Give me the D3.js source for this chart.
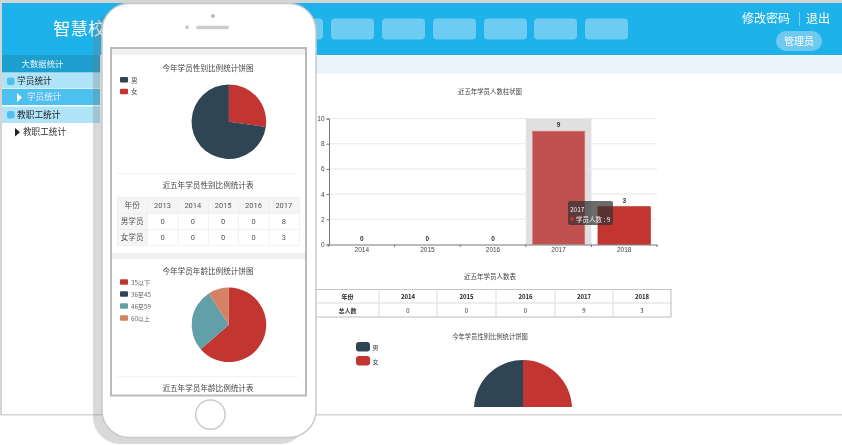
<!DOCTYPE html>
<html><head><meta charset="utf-8">
<script src="https://cdn.jsdelivr.net/npm/d3@7"></script>
<style>html,body{margin:0;padding:0;background:#fff;overflow:hidden}svg{display:block}text{font-family:"Noto Sans CJK SC","Noto Sans",sans-serif;filter:blur(.3px)}</style>
</head><body><svg id="c" width="842" height="445"></svg>
<script>
const barYears=["2014","2015","2016","2017","2018"];
const barValues=[0,0,0,9,3];
const yTicks=[0,2,4,6,8,10];
const genderLabels=["男","女"];
const genderValues=[8,3];
const ageLabels=["35以下","36至45","46至59","60以上"];
const ageValues=[7,0,3,1];
const tableYears=["2013","2014","2015","2016","2017"];
const tableMale=[0,0,0,0,8];
const tableFemale=[0,0,0,0,3];
const navButtons=[280,331,382,433,484,534,585];
const sideRows=[["大数据统计",55,17.5,"#1c9fcf"],["学员统计",73,15.5,"#aee3f8"],["学员统计",89,16,"#4cc0ef"],["教职工统计",106.5,16.5,"#aee3f8"]];

const svg=d3.select("#c");
const rect=(g,x,y,w,h,f,r)=>g.append("rect").attr("x",x).attr("y",y).attr("width",w).attr("height",h).attr("fill",f).attr("rx",r||0);
const txt=(g,x,y,s,size,f,a,w)=>g.append("text").attr("x",x).attr("y",y).attr("font-size",size).attr("fill",f).attr("text-anchor",a||"middle").attr("font-weight",w||400).text(s);
const defs=svg.append("defs");
defs.append("clipPath").attr("id","pc").append("rect").attr("x",316).attr("y",320).attr("width",400).attr("height",87);

// window
rect(svg,0,0,842,445,"#fff");
rect(svg,0,0,842,3,"#d4d4d4");
rect(svg,2,3,840,52,"#1eb2ea");
rect(svg,100,56,742,17.5,"#eaf3fa");
rect(svg,0,414,842,1.5,"#d4d4d4");
rect(svg,0,3,2,412,"#d4d4d4");
txt(svg,53,35,"智慧校",17.5,"#fff","start");
navButtons.forEach(x=>rect(svg,x,18.5,43,21,"#6ecbf1",4));
txt(svg,766,23,"修改密码",12,"#fff");
rect(svg,799,12,.8,14,"#8fd8f4");
txt(svg,818,23,"退出",12,"#fff");
rect(svg,776,31,46,20,"#70c9ee",10);
txt(svg,799,44.5,"管理员",10,"#fff");
// sidebar
sideRows.forEach((r,i)=>{
  rect(svg,2,r[1],98,r[2],r[3]);
  if(i===0)txt(svg,42.5,67,r[0],8.4,"#e8f6fc");
  if(i===1||i===3){rect(svg,7,r[1]+4.5,7.5,7.5,"#4cc0ef",2);txt(svg,17,r[1]+11,r[0],8.7,"#222","start");}
  if(i===2){svg.append("path").attr("d",d3.line()([[17,r[1]+4],[17,r[1]+13],[22,r[1]+8.5]])).attr("fill","#fff");txt(svg,27,r[1]+11,r[0],8.6,"#eef","start");}
});
svg.append("path").attr("d",d3.line()([[15,128],[15,136.5],[20,132.2]])).attr("fill","#222");
txt(svg,23,135.3,"教职工统计",8.6,"#333","start");

// main bar chart
txt(svg,490,93.5,"近五年学员人数柱状图",6.4,"#444");
const x=d3.scaleBand().domain(barYears).range([329,657]);
const y=d3.scaleLinear().domain([0,10]).range([244.5,118.5]);
const bar=svg.append("g");
bar.append("rect").attr("x",x("2017")).attr("y",y(10)).attr("width",x.bandwidth()).attr("height",y(0)-y(10)).attr("fill","#e0e0e0");
bar.selectAll("line.g").data(yTicks.slice(1)).join("line").attr("x1",329).attr("x2",657).attr("y1",d=>y(d)).attr("y2",d=>y(d)).attr("stroke","#e6e6e6").attr("stroke-width",1.1).attr("stroke-opacity",.85);
bar.selectAll("rect.b").data(barValues).join("rect").attr("class","b")
 .attr("x",(d,i)=>x(barYears[i])+x.bandwidth()*.1).attr("width",x.bandwidth()*.8)
 .attr("y",d=>y(d)).attr("height",d=>y(0)-y(d))
 .attr("fill",(d,i)=>i===3?"#c1514f":"#c23531").attr("stroke",(d,i)=>d?(i===3?"#e08c8a":"#b8201c"):"none").attr("stroke-width",.6);
bar.selectAll("text.v").data(barValues).join("text").attr("class","v").attr("x",(d,i)=>x(barYears[i])+x.bandwidth()/2).attr("y",d=>y(d)-4)
 .attr("text-anchor","middle").attr("font-size",6.5).attr("font-weight",700).attr("fill","#333").style("font-family",'"Liberation Sans"').text(d=>d);
const ax=bar.append("g").attr("transform","translate(0,244.5)").call(d3.axisBottom(x).tickSize(0).tickPadding(2.5).tickSizeOuter(0));
bar.selectAll("line.et").data(barYears.concat(["end"])).join("line").attr("class","et")
 .attr("x1",(d,i)=>329+i*x.step()).attr("x2",(d,i)=>329+i*x.step()).attr("y1",244.5).attr("y2",247).attr("stroke","#777");
const ay=bar.append("g").attr("transform","translate(329,0)").call(d3.axisLeft(y).tickValues(yTicks).tickSize(2.5).tickPadding(2));
[ax,ay].forEach(a=>{a.selectAll("path,line").attr("stroke","#777");a.selectAll("text").attr("font-size",6.5).attr("fill","#444").style("font-family",'"Liberation Sans"')});
rect(svg,568,201,45,24,"#323232",2).attr("fill-opacity",.72);
txt(svg,570,212,"2017",6.5,"#eee","start");
svg.append("circle").attr("cx",572).attr("cy",219).attr("r",2).attr("fill","#c23531");
txt(svg,576,221.5,"学员人数 : 9",6.5,"#eee","start");

// main table
txt(svg,490,279,"近五年学员人数表",6.5,"#444");
const colX=d3.scaleOrdinal().domain(["年份",...barYears]).range([316,379,437,496,555,613]);
const colW=[63,58,59,59,58,58];
const tb=svg.append("g");
["年份",...barYears].forEach((c,i)=>{
  tb.append("rect").attr("x",colX(c)).attr("y",289.5).attr("width",colW[i]).attr("height",13.5).attr("fill","none").attr("stroke","#e4e4e4").attr("stroke-width",.8);
  tb.append("rect").attr("x",colX(c)).attr("y",303).attr("width",colW[i]).attr("height",14).attr("fill","none").attr("stroke","#e4e4e4").attr("stroke-width",.8);
  txt(tb,colX(c)+colW[i]/2,299.2,c,6,"#222","middle",700);
  txt(tb,colX(c)+colW[i]/2,313,i===0?"总人数":barValues[i-1],6,"#333","middle",i===0?700:400);
});
tb.append("path").attr("d",d3.line()([[316,289.5],[671,289.5],[671,317],[316,317]])).attr("fill","none").attr("stroke","#bbb").attr("stroke-width",.8);

const pieGen=d3.pie().sort(null);
const arc=r=>d3.arc().innerRadius(0).outerRadius(r);
// gender shown clockwise from 12 o'clock: 女 then 男
const gData=pieGen(genderValues.slice().reverse());
const gCol=["#c23531","#2f4554"];
// main pie
txt(svg,490,339,"今年学员性别比例统计饼图",6.3,"#444");
genderLabels.forEach((l,i)=>{rect(svg,356,342+i*14,14,9.5,i?"#c23531":"#2f4554",3);txt(svg,372.5,349.5+i*14,l,6,"#333","start");});
svg.append("g").attr("clip-path","url(#pc)").selectAll("path").data(gData).join("path")
 .attr("transform","translate(523,409)").attr("d",arc(49)).attr("fill",(d,i)=>gCol[i]);

// phone shadow + body
rect(svg,93,10,214,434,"#777",27).attr("fill-opacity",.28);
rect(svg,102,3.5,214,434,"#fff",27).attr("stroke","#c6c9cb").attr("stroke-width",1.5);
svg.append("circle").attr("cx",213).attr("cy",16).attr("r",2).attr("fill","#bbb");
svg.append("circle").attr("cx",187).attr("cy",27.3).attr("r",2).attr("fill","#ccc");
rect(svg,196,25.8,33,3.5,"#ccc",1.7);
svg.append("circle").attr("cx",210.4).attr("cy",414.6).attr("r",14.7).attr("fill","#fff").attr("stroke","#ccc").attr("stroke-width",1.5);
// screen
rect(svg,111,48,195,347.5,"#fff").attr("stroke","#bbb").attr("stroke-width",2);
rect(svg,112,49,193,6,"#f0f0f0");
rect(svg,112,253,193,6,"#f0f0f0");
rect(svg,117,173,181,1,"#f3f3f3");
rect(svg,117,376,181,1,"#f3f3f3");
// phone pies
txt(svg,208,71,"今年学员性别比例统计饼图",7.6,"#444");
genderLabels.forEach((l,i)=>{rect(svg,120,77+i*11.7,8,5.5,i?"#c23531":"#2f4554",1);txt(svg,131,82.5+i*11.7,l,6.5,"#444","start");});
svg.append("g").attr("transform","translate(228.9,121.7)").selectAll("path").data(gData).join("path").attr("d",arc(37.3)).attr("fill",(d,i)=>gCol[i]);
txt(svg,208,188,"近五年学员性别比例统计表",7.6,"#444");
// phone table
const ty=[197,213,229,245];
const tx=d3.scaleBand().domain(["年份",...tableYears]).range([117,299]);
rect(svg,117,197,182,16,"#f5f5f5");
rect(svg,117,213,30.4,32,"#f5f5f5");
ty.forEach(v=>rect(svg,117,v,182,.7,"#ececec"));
tx.domain().forEach(c=>rect(svg,tx(c),197,.7,48,"#ececec"));
rect(svg,299,197,.7,48,"#ececec");
[["年份",...tableYears],["男学员",...tableMale],["女学员",...tableFemale]].forEach((row,r)=>row.forEach((v,i)=>{
  const t=txt(svg,tx(tx.domain()[i])+tx.bandwidth()/2,ty[r]+11,v,i===0?7.6:7.5,"#555");
  if(i>0)t.style("font-family","Roboto");
}));
const ageCol=["#c23531","#2f4554","#61a0a8","#d48265"];
txt(svg,208,274,"今年学员年龄比例统计饼图",7.6,"#444");
ageLabels.forEach((l,i)=>{rect(svg,120,279.3+i*12,8,5.5,ageCol[i],1);txt(svg,131,284.5+i*12,l,6.2,"#666","start");});
svg.append("g").attr("transform","translate(228.9,324.8)").selectAll("path").data(pieGen(ageValues)).join("path").attr("d",arc(37.3)).attr("fill",(d,i)=>ageCol[i]);
txt(svg,208,391,"近五年学员年龄比例统计表",7.6,"#444");
</script></body></html>
